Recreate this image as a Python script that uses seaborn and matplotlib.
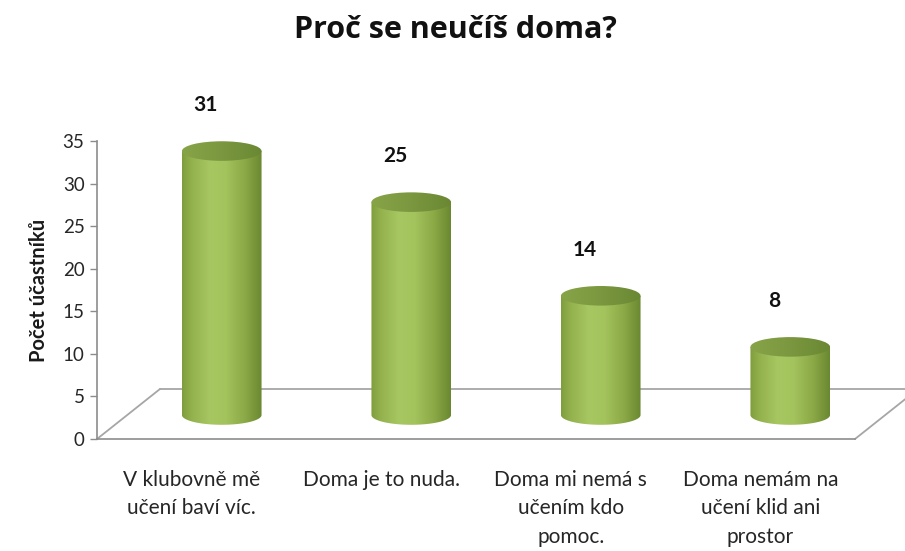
import numpy as np
import matplotlib
matplotlib.use("Agg")
import matplotlib.pyplot as plt
import matplotlib.transforms as mtransforms
from matplotlib.colors import LinearSegmentedColormap
from matplotlib.patches import Ellipse, PathPatch
from matplotlib.path import Path
import seaborn as sns

# data
categories = ["V klubovně mě\nučení baví víc.", "Doma je to nuda.",
              "Doma mi nemá s\nučením kdo\npomoc.", "Doma nemám na\nučení klid ani\nprostor"]
values = [31, 25, 14, 8]
y_ticks = [0, 5, 10, 15, 20, 25, 30, 35]
title = "Proč se neučíš doma?"
y_label = "Počet účastníků"

sns.set_style("white")
plt.rcParams["font.family"] = ["Lato", "DejaVu Sans"]

W, H = 905, 551
fig = plt.figure(figsize=(W / 100, H / 100), dpi=100)


def px_rect(x0, y0, x1, y1):
    return [x0 / W, 1 - y1 / H, (x1 - x0) / W, (y1 - y0) / H]


axis_grey = "#8c8c8c"
text_col = "#262626"

# front axes (floor front edge + value axis)
ax = fig.add_axes(px_rect(97, 141, 855, 439))
ax.set_xlim(-0.5, len(categories) - 0.5)
ax.set_ylim(0, 35)
ax.set_yticks(y_ticks)
ax.set_yticklabels([str(t) for t in y_ticks], fontsize=13.5, color=text_col)
ax.set_xticks(range(len(categories)))
ax.set_xticklabels(categories, fontsize=15, color=text_col, linespacing=1.55, va="top")
ax.set_xticks(np.arange(-0.5, len(categories)), minor=True)
ax.tick_params(axis="x", which="major", length=0, pad=22)
ax.tick_params(axis="x", which="minor", length=8, color=axis_grey, width=1)
ax.tick_params(axis="y", length=5, color=axis_grey, width=1, pad=4, left=True)
for s in ["top", "right"]:
    ax.spines[s].set_visible(False)
for s in ["left", "bottom"]:
    ax.spines[s].set_color(axis_grey)
    ax.spines[s].set_linewidth(1.2)
ax.set_ylabel(y_label, fontsize=14.5, fontweight="bold", labelpad=10, color="#1a1a1a")

# 3D floor: back edge and side edges
depth = mtransforms.ScaledTranslation(0.63, 0.50, fig.dpi_scale_trans)
back = ax.transAxes + depth
ax.plot([0, 1], [0, 0], transform=back, color="#a6a6a6", lw=1.3, clip_on=False)
for xa in (0, 1):
    p0 = ax.transAxes.transform((xa, 0))
    p1 = back.transform((xa, 0))
    ax.plot([p0[0], p1[0]], [p0[1], p1[1]], transform=None, color="#a6a6a6", lw=1.3, clip_on=False)

# cylinders sit half way into the depth; extra room below 0 for the base ellipse
ymin_b = -2.5
scale = (415 - 117) / 35.0
axb = fig.add_axes(px_rect(127, 117, 885, 415 - ymin_b * scale))
sns.barplot(x=categories, y=values, ax=axb, width=0.42, color="#9bbb59")
axb.set_axis_off()
axb.patch.set_alpha(0)

body_cmap = LinearSegmentedColormap.from_list(
    "body", [(0, "#7f9d3c"), (0.12, "#93b24d"), (0.35, "#a7c762"), (0.55, "#a3c35d"),
             (0.8, "#8aa845"), (1, "#6a8830")])
top_cmap = LinearSegmentedColormap.from_list(
    "top", [(0, "#88a448"), (0.5, "#7b9840"), (1, "#6a8733")])
grad = np.linspace(0, 1, 256).reshape(1, -1)

eh = 2.3  # ellipse height in data units
t = np.linspace(0, np.pi, 80)
for p, v in zip(list(axb.patches), values):
    x0, bw, h = p.get_x(), p.get_width(), p.get_height()
    x1 = x0 + bw
    xc = x0 + bw / 2
    p.set_facecolor("none")
    p.set_edgecolor("none")
    arc = np.column_stack([xc + bw / 2 * np.cos(t), -eh / 2 * np.sin(t)])
    verts = np.vstack([[[x0, h], [x1, h], [x1, 0]], arc, [[x0, 0], [x0, h]]])
    body = PathPatch(Path(verts, closed=True), facecolor="none", edgecolor="none",
                     transform=axb.transData)
    axb.add_patch(body)
    im = axb.imshow(grad, cmap=body_cmap, extent=[x0, x1, -eh / 2, h], aspect="auto",
                    interpolation="bicubic", zorder=2)
    im.set_clip_path(body)
    top = Ellipse((xc, h), bw, eh, facecolor="none", edgecolor="none", transform=axb.transData)
    axb.add_patch(top)
    im2 = axb.imshow(grad, cmap=top_cmap, extent=[x0, x1, h - eh / 2, h + eh / 2],
                     aspect="auto", interpolation="bicubic", zorder=3)
    im2.set_clip_path(top)
    axb.annotate(str(v), (xc, h), xytext=(-16, 46), textcoords="offset pixels",
                 ha="center", va="center", fontsize=15, fontweight="bold", color="#111111")

axb.set_xlim(-0.5, len(categories) - 0.5)
axb.set_ylim(ymin_b, 35)

fig.text(0.503, 1 - 30 / H, title, ha="center", va="center", fontsize=22,
         fontweight="bold", color="#111111", family=["Open Sans", "DejaVu Sans"])

fig.savefig("out.png", dpi=100)
